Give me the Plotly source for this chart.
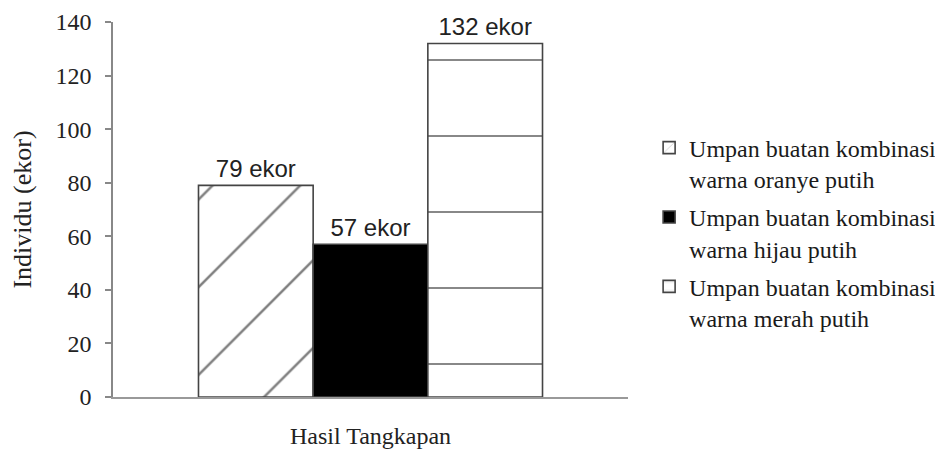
import plotly.graph_objects as go

category = ["Hasil Tangkapan"]
series_names = [
    "Umpan buatan kombinasi<br>warna oranye putih",
    "Umpan buatan kombinasi<br>warna hijau putih",
    "Umpan buatan kombinasi<br>warna merah putih",
]
values = [79, 57, 132]
value_labels = ["79 ekor", "57 ekor", "132 ekor"]
y_ticks = [0, 20, 40, 60, 80, 100, 120, 140]

fills = ["white", "black", "white"]
patterns = [
    dict(shape="/", fgcolor="#000000", bgcolor="white", size=62, solidity=0.04, fillmode="overlay"),
    dict(shape=""),
    dict(shape="-", fgcolor="#111111", bgcolor="white", size=76, solidity=0.026, fillmode="overlay"),
]

serif = "Liberation Serif, Times New Roman, serif"

fig = go.Figure()
for i, (name, v, lab, col, pat) in enumerate(zip(series_names, values, value_labels, fills, patterns)):
    fig.add_trace(go.Bar(
        x=category, y=[v], name=name, legendgroup=f"g{i}",
        text=[lab], textposition="outside",
        outsidetextfont=dict(family="Liberation Sans, Arial", size=24, color="#222222"),
        marker=dict(color=col, line=dict(color="#444444", width=1.6), pattern=pat),
        cliponaxis=False,
    ))

fig.update_layout(
    width=935, height=445,
    margin=dict(l=105, r=315, t=14, b=56, autoexpand=False),
    paper_bgcolor="white", plot_bgcolor="white",
    barmode="group", bargap=0.332, bargroupgap=0,
    showlegend=True,
    legend=dict(
        x=1.041, y=0.724, xanchor="left", yanchor="top",
        font=dict(family=serif, size=24, color="#1a1a1a"),
        valign="top", bgcolor="rgba(0,0,0,0)",
        traceorder="grouped", tracegroupgap=4,
    ),
    xaxis=dict(
        showline=True, linecolor="#999999", linewidth=1.5,
        ticks="", showgrid=False, zeroline=False, automargin=False,
        tickfont=dict(family=serif, size=24, color="#222222"),
        ticklabelstandoff=16,
    ),
    yaxis=dict(
        range=[0, 140], tickvals=y_ticks, automargin=False,
        showline=True, linecolor="#888888", linewidth=1.5,
        ticks="outside", ticklen=6, tickcolor="#888888", tickwidth=1.5,
        showgrid=False, zeroline=False,
        tickfont=dict(family=serif, size=24, color="#222222"),
        ticklabelstandoff=9,
        title=dict(text="Individu (ekor)", standoff=19,
                   font=dict(family=serif, size=26, color="#222222")),
    ),
)

fig.write_html("out.html")
